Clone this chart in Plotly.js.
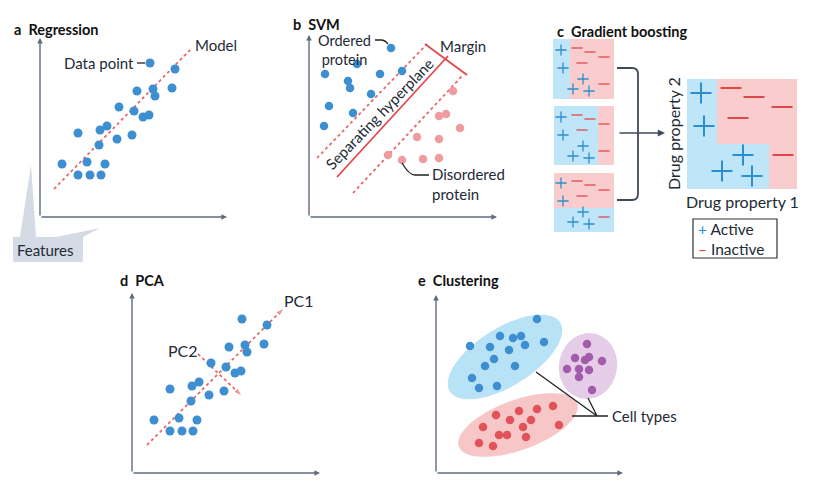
<!DOCTYPE html>
<html><head><meta charset="utf-8">
<script src="https://cdn.plot.ly/plotly-3.0.1.min.js"></script>
<style>html,body{margin:0;padding:0;background:#fff}</style>
</head><body><div id="chart" style="width:832px;height:500px"></div>
<script>
// ---------- DATA ----------
// Panels a & d: height / weight samples (same data set)
const heightVals = [2.2,3.8,5.0,6.1,4.7,6.5,3.8,5.9,6.0,6.7,7.7,9.2,7.9,9.4,10.3,10.9,9.7,11.3,11.5,13.2,13.5,11.0];
const weightVals = [5.3,4.2,4.2,4.2,5.5,5.3,8.4,7.2,8.7,9.1,7.8,8.2,11.0,10.6,10.0,10.2,12.6,12.8,12.1,12.9,14.8,15.4];
const modelX = [1.4, 15.0];
const modelY = [2.8, 16.7];
const pc1X = [1.5, 15.2], pc1Y = [2.8, 16.5];
const pc2X = [6.6, 11.0], pc2Y = [11.9, 7.7];

// Panel b: SVM
const orderedX = [8.2,4.8,1.6,3.9,4.1,7.1,9.3,6.2,2.0,4.4,1.5];
const orderedY = [16.9,15.3,14.3,13.6,12.9,14.3,14.6,12.3,11.1,10.4,9.1];
const disorderedX = [14.4,13.0,13.7,15.1,10.8,13.0,7.9,9.3,11.4,13.0];
const disorderedY = [12.6,10.1,10.3,8.9,8.0,7.8,6.2,5.7,5.8,5.9];
const hyperX = [2.8, 13.9], hyperY = [4.0, 16.1];
const upperMarginX = [0.8, 11.8], upperMarginY = [5.9, 17.3];
const lowerMarginX = [4.4, 15.4], lowerMarginY = [2.4, 14.2];
const marginBarX = [11.6, 15.8], marginBarY = [17.3, 14.2];

// Panel c: gradient boosting (weak learners share the same sign layout)
const smallPlusX = [2.1,2.3,4.3,3.3,4.9];
const smallPlusY = [21.0,19.2,18.1,17.1,16.9];
const smallMinusX = [3.7,5.0,6.4,4.2,6.4];
const smallMinusY = [21.2,20.8,20.3,19.7,17.6];
const learnerShift = [0, -6.7, -13.3];
const bigPlusX = [16.1,16.4,20.3,18.2,21.2];
const bigPlusY = [16.7,13.4,10.5,8.9,8.4];
const bigMinusX = [19.1,21.4,24.2,19.8,24.3];
const bigMinusY = [17.2,16.3,15.3,14.2,10.5];

// Panel e: clustering
const type1X = [10.1,6.4,7.7,8.5,10.8,8.9,3.4,5.4,7.3,5.8,4.9,7.9,3.6,4.3,6.1];
const type1Y = [15.4,13.7,13.5,13.7,13.1,12.8,12.7,12.6,12.3,11.4,10.7,10.7,9.5,8.5,8.7];
const type2X = [15.1,13.9,14.9,15.3,16.6,13.1,14.3,15.3,14.3,15.6];
const type2Y = [12.9,11.5,11.3,11.6,11.2,10.4,10.4,10.3,9.6,8.3];
const type3X = [11.7,10.1,8.3,6.0,9.5,7.4,12.3,4.7,8.7,6.3,7.1,9.0,4.3,5.7];
const type3Y = [6.7,6.4,6.2,5.8,5.3,5.3,4.8,4.6,4.6,3.8,3.8,3.6,3.0,2.7];
// cluster ellipses: [cx, cy, semi-major, semi-minor, angle deg]
const ellipse1 = [6.9, 11.6, 6.5, 2.9, 32];
const ellipse2 = [15.2, 10.7, 3.3, 2.9, 80];
const ellipse3 = [8.2, 4.8, 6.3, 2.5, 20];

// ---------- STYLE / LAYOUT HELPERS ----------
const W = 832, H = 500;
const FONT = 'Lato, "Open Sans", sans-serif';
const TXT = '#222a35';
const AXC = '#5f6c7d';
const BLUE = '#3d8fd1', PINK = '#ef9c9e', RED = '#e05459', PURPLE = '#a35cab';
const LRED = '#e2474d', DRED = '#e4686c';
const FBLUE = '#bfe5f8', FPINK = '#f9cdcd';
const LBL = 15;

// panel plot boxes in px: [left, right, top, bottom]
const boxes = [[40,227,38,217],[309,497,35,217],[540,832,30,260],[132,320,293,473],[436,623,295,473]];
const layout = {width:W, height:H, margin:{l:0,r:0,t:0,b:0}, paper_bgcolor:'#fff', plot_bgcolor:'rgba(0,0,0,0)',
  showlegend:false, autosize:false, shapes:[], annotations:[], font:{family:FONT, color:TXT}};
boxes.forEach((b,i)=>{
  const s = i===0?'':String(i+1);
  layout['xaxis'+s] = {domain:[b[0]/W, b[1]/W], range:[0,(b[1]-b[0])/10], visible:false, fixedrange:true, anchor:'y'+s};
  layout['yaxis'+s] = {domain:[1-b[3]/H, 1-b[2]/H], range:[0,(b[3]-b[2])/10], visible:false, fixedrange:true, anchor:'x'+s};
});
const px = x => x/W, py = y => 1-y/H;
const traces = [];
function dots(x,y,color,axi,size){
  const s = axi===1?'':String(axi);
  traces.push({x,y,xaxis:'x'+s,yaxis:'y'+s,type:'scatter',mode:'markers',cliponaxis:false,hoverinfo:'skip',
    marker:{color,size:size||9,line:{width:0}}});
}
function line(x,y,color,axi,dash,width,arrow){
  const s = axi===1?'':String(axi);
  const t = {x,y,xaxis:'x'+s,yaxis:'y'+s,type:'scatter',mode:arrow?'lines+markers':'lines',cliponaxis:false,hoverinfo:'skip',
    line:{color,width:width||1.6,dash:dash||'solid'}};
  if(arrow) t.marker = {symbol:x.map((_,i)=>i===x.length-1?'arrow':'circle'), size:x.map((_,i)=>i===x.length-1?9:0), color, angleref:'previous'};
  traces.push(t);
}
function signs(x,y,plus,axi,size,width){
  const s = axi===1?'':String(axi);
  traces.push({x,y,xaxis:'x'+s,yaxis:'y'+s,type:'scatter',mode:'markers',cliponaxis:false,hoverinfo:'skip',
    marker:{symbol:plus?'cross-thin-open':'line-ew-open',size,color:plus?'#2e8dcf':'#e0474d',line:{width,color:plus?'#2e8dcf':'#e0474d'}}});
}
function ann(axi,x,y,text,opt){
  const s = axi===1?'':String(axi);
  layout.annotations.push(Object.assign({xref:'x'+s,yref:'y'+s,x,y,text,showarrow:false,font:{family:FONT,size:LBL,color:TXT}},opt||{}));
}
function pann(x,y,text,opt){
  layout.annotations.push(Object.assign({xref:'paper',yref:'paper',x:px(x),y:py(y),text,showarrow:false,xanchor:'left',
    font:{family:FONT,size:14.5,color:'#111'}},opt||{}));
}
function axesArrows(axi){
  const s = axi===1?'':String(axi);
  const xr = layout['xaxis'+s].range[1], yr = layout['yaxis'+s].range[1];
  [[xr,0],[0,yr]].forEach(e=>layout.annotations.push({xref:'x'+s,yref:'y'+s,axref:'x'+s,ayref:'y'+s,x:e[0],y:e[1],ax:0,ay:0,
    showarrow:true,arrowhead:2,arrowsize:0.8,arrowwidth:1.4,arrowcolor:AXC,text:''}));
}
function ellipsePath(e){
  const [cx,cy,a,b,ang] = e, t = ang*Math.PI/180; let p='';
  for(let k=0;k<=72;k++){const u=k/72*2*Math.PI; const x=cx+a*Math.cos(u)*Math.cos(t)-b*Math.sin(u)*Math.sin(t);
    const y=cy+a*Math.cos(u)*Math.sin(t)+b*Math.sin(u)*Math.cos(t); p+=(k?'L':'M')+x.toFixed(3)+','+y.toFixed(3);}
  return p+'Z';
}
function rect(axi,x0,x1,y0,y1,color){
  const s = axi===1?'':String(axi);
  layout.shapes.push({type:'rect',xref:'x'+s,yref:'y'+s,x0,x1,y0,y1,fillcolor:color,line:{width:0},layer:'below'});
}

// ---------- PANEL a: Regression ----------
axesArrows(1);
line(modelX, modelY, DRED, 1, '3px,3px', 1.8);
dots(heightVals, weightVals, BLUE, 1);
ann(1, heightVals[21]-1.4, weightVals[21], 'Data point', {xanchor:'right'});
layout.shapes.push({type:'line',xref:'x',yref:'y',x0:heightVals[21]-1.3,x1:heightVals[21]-0.5,y0:weightVals[21],y1:weightVals[21],line:{color:'#222',width:1.3}});
ann(1, modelX[1]+0.3, modelY[1]+0.5, 'Model', {xanchor:'left'});
ann(1, -1.2, 8.2, 'Weight', {textangle:-90});
ann(1, 9.1, -1.1, 'Height');
pann(12, 19, '<b>a  Regression</b>');
// Features callout
const fpath = 'M'+px(13)+','+py(237)+'L'+px(20)+','+py(237)+'L'+px(31)+','+py(165)+'L'+px(36)+','+py(237)+
  'L'+px(56)+','+py(237)+'L'+px(100)+','+py(228)+'L'+px(83)+','+py(237)+'L'+px(83)+','+py(262)+'L'+px(13)+','+py(262)+'Z';
layout.shapes.push({type:'path',xref:'paper',yref:'paper',path:fpath,fillcolor:'#d4dbe4',line:{width:0},layer:'below'});
pann(15, 250, 'Features', {font:{family:FONT,size:LBL,color:TXT}});

// ---------- PANEL b: SVM ----------
axesArrows(2);
line(upperMarginX, upperMarginY, DRED, 2, '3px,3px', 1.8);
line(lowerMarginX, lowerMarginY, DRED, 2, '3px,3px', 1.8);
line(hyperX, hyperY, LRED, 2, 'solid', 1.8);
line(marginBarX, marginBarY, LRED, 2, 'solid', 1.8);
dots(orderedX, orderedY, BLUE, 2, 8.5);
dots(disorderedX, disorderedY, PINK, 2, 8.5);
ann(2, 3.5, 16.75, 'Ordered<br>protein', {borderpad:0, font:{family:FONT,size:14.5,color:TXT}});
layout.shapes.push({type:'path',xref:'x2',yref:'y2',path:'M6.6,17.7 L7.2,17.7 Q7.6,17.7 7.9,17.3',line:{color:'#222',width:1.3}});
ann(2, 12.9, 17.1, 'Margin', {xanchor:'left'});
ann(2, 7.0, 10.3, 'Separating hyperplane', {textangle:-46});
ann(2, 12.1, 3.3, 'Disordered<br>protein', {xanchor:'left', align:'left'});
layout.shapes.push({type:'path',xref:'x2',yref:'y2',path:'M9.3,5.4 Q10.0,4.2 10.6,4.2 L12.0,4.2',line:{color:'#222',width:1.3}});
pann(292, 15, '<b>b  SVM</b>', {borderpad:0});

// ---------- PANEL c: Gradient boosting ----------
pann(555, 21, '<b>c  Gradient boosting</b>');
// weak learners
rect(3,1.3,7.4,16.1,22.1,FPINK); rect(3,1.3,3.0,16.1,22.1,FBLUE);
rect(3,1.4,7.4,9.5,15.4,FPINK); rect(3,1.4,5.8,9.5,15.4,FBLUE);
rect(3,1.4,7.4,2.8,8.7,FBLUE); rect(3,1.4,7.4,5.2,8.7,FPINK);
learnerShift.forEach(d=>{
  signs(smallPlusX, smallPlusY.map(v=>v+d), true, 3, 8, 1.3);
  signs(smallMinusX, smallMinusY.map(v=>v+d), false, 3, 8, 1.3);
});
// bracket + arrow
layout.shapes.push({type:'path',xref:'x3',yref:'y3',path:'M7.7,19.2 L9.2,19.2 Q9.8,19.2 9.8,18.6 L9.8,6.6 Q9.8,6.0 9.2,6.0 L7.7,6.0',line:{color:'#3f4a5a',width:1.8}});
layout.annotations.push({xref:'x3',yref:'y3',axref:'x3',ayref:'y3',x:12.5,y:12.7,ax:7.8,ay:12.7,showarrow:true,arrowhead:2,arrowsize:0.9,arrowwidth:1.6,arrowcolor:'#3f4a5a',text:''});
// strong learner
rect(3,14.7,25.7,7.1,18.1,FPINK);
rect(3,14.7,17.7,7.1,18.1,FBLUE);
rect(3,14.7,22.9,7.1,11.6,FBLUE);
signs(bigPlusX, bigPlusY, true, 3, 15, 2);
signs(bigMinusX, bigMinusY, false, 3, 15, 2);
ann(3, 13.3, 12.6, 'Drug property 2', {textangle:-90, font:{family:FONT,size:16,color:TXT}});
ann(3, 20.2, 5.9, 'Drug property 1', {font:{family:FONT,size:16,color:TXT}});
layout.shapes.push({type:'rect',xref:'x3',yref:'y3',x0:15.3,x1:23.7,y0:0.2,y1:4.1,line:{color:'#333',width:1.2},fillcolor:'rgba(0,0,0,0)'});
ann(3, 15.6, 2.15, '<span style="color:#2e8dcf">+</span> Active<br><span style="color:#e0474d">–</span> Inactive',
  {xanchor:'left', align:'left', font:{family:FONT,size:15.5,color:TXT}});

// ---------- PANEL d: PCA ----------
axesArrows(4);
line(pc1X, pc1Y, DRED, 4, '3px,3px', 1.8, true);
line(pc2X, pc2Y, DRED, 4, '3px,3px', 1.8, true);
dots(heightVals, weightVals, BLUE, 4);
ann(4, 16.7, 17.3, 'PC1', {font:{family:FONT,size:16,color:TXT}});
ann(4, 5.1, 12.3, 'PC2', {font:{family:FONT,size:16,color:TXT}});
ann(4, -1.2, 8.6, 'Weight', {textangle:-90});
ann(4, 9.1, -1.0, 'Height');
pann(118, 280, '<b>d  PCA</b>');

// ---------- PANEL e: Clustering ----------
axesArrows(5);
[[ellipse1,'#b8e2f6'],[ellipse2,'#e5cde8'],[ellipse3,'#f7c6c6']].forEach(e=>
  layout.shapes.push({type:'path',xref:'x5',yref:'y5',path:ellipsePath(e[0]),fillcolor:e[1],line:{width:0},layer:'below'}));
dots(type1X, type1Y, BLUE, 5, 8.5);
dots(type2X, type2Y, PURPLE, 5, 8.5);
dots(type3X, type3Y, RED, 5, 8.5);
layout.shapes.push({type:'path',xref:'x5',yref:'y5',path:'M10.0,10.1 L16.1,5.7 L15.2,7.5',line:{color:'#222',width:1.3}});
layout.shapes.push({type:'line',xref:'x5',yref:'y5',x0:13.6,x1:17.2,y0:5.7,y1:5.7,line:{color:'#222',width:1.3}});
ann(5, 17.4, 5.7, 'Cell types', {xanchor:'left'});
ann(5, -1.1, 8.6, 'Gene 2 expression', {textangle:-90, font:{family:FONT,size:16,color:TXT}});
ann(5, 9.1, -1.0, 'Gene 1 expression', {font:{family:FONT,size:16,color:TXT}});
pann(416, 280, '<b>e  Clustering</b>');

Plotly.newPlot('chart', traces, layout, {staticPlot:true, displayModeBar:false});
</script></body></html>
